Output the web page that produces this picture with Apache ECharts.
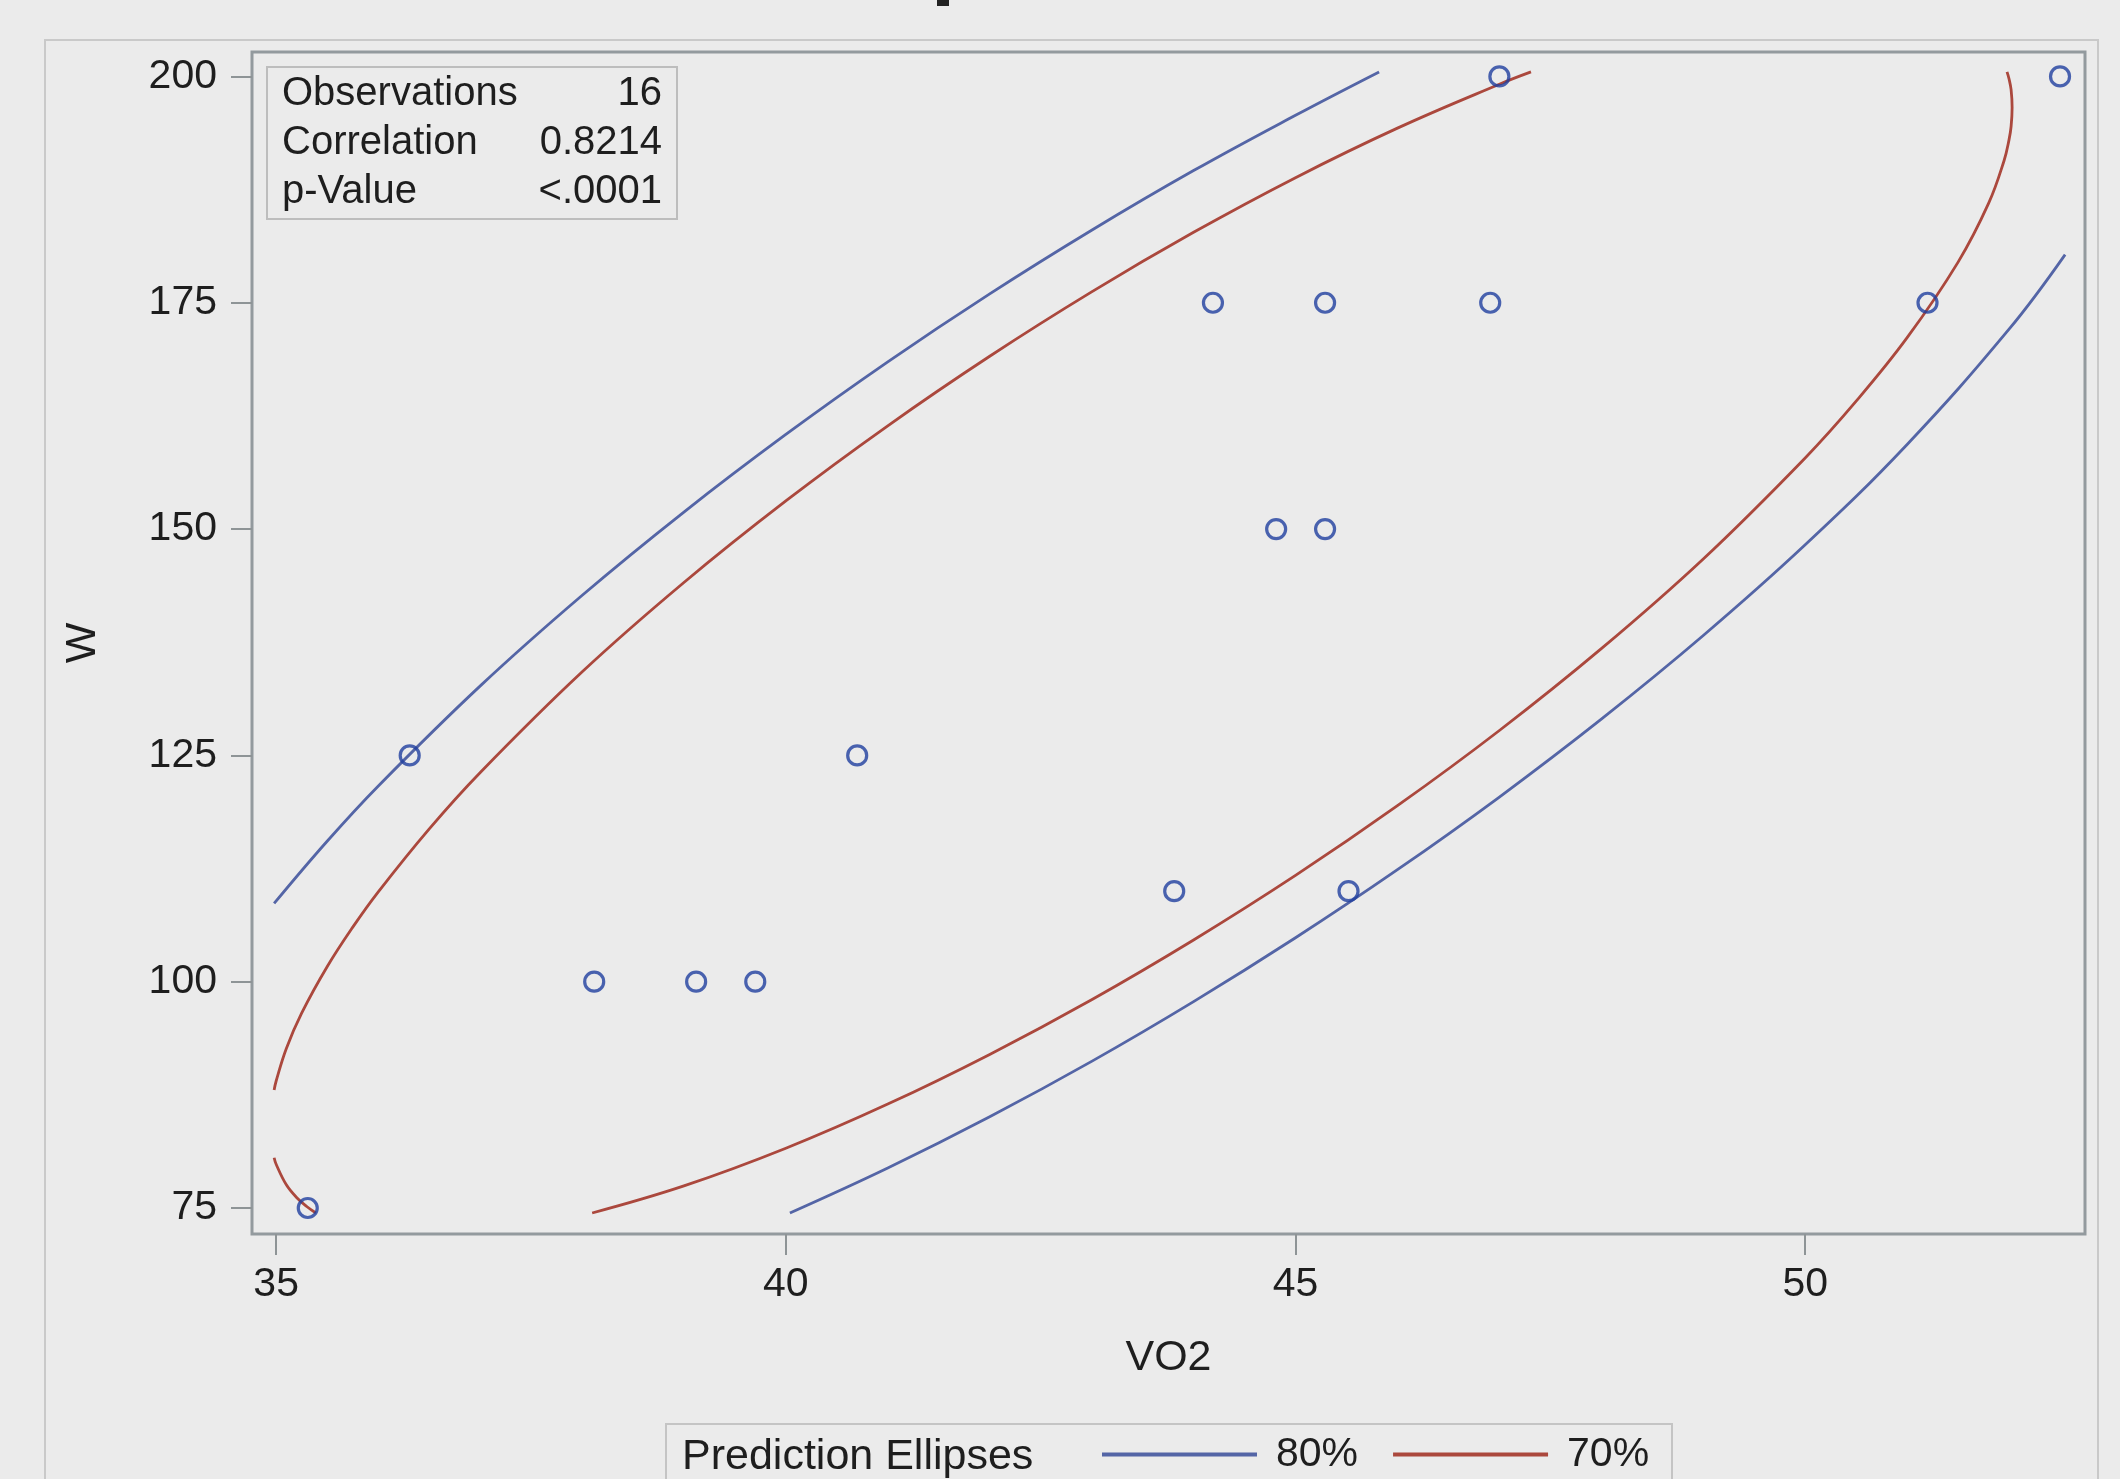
<!DOCTYPE html>
<html><head><meta charset="utf-8">
<script src="https://cdn.jsdelivr.net/npm/echarts@6/dist/echarts.min.js"></script>
<style>html,body{margin:0;padding:0;background:#ebebeb;} #c{width:2120px;height:1479px;}</style>
</head><body><div id="c"></div>
<script>
// ---- data ----
const vo2 = [35.31, 36.31, 38.12, 39.12, 39.70, 40.70, 43.81, 44.19, 44.81, 45.29, 45.29, 45.52, 46.91, 47.00, 51.20, 52.50];
const w   = [75, 125, 100, 100, 100, 125, 110, 175, 150, 150, 175, 110, 175, 200, 175, 200];
const xTicks = [35, 40, 45, 50];
const yTicks = [75, 100, 125, 150, 175, 200];
const statsLabels = ['Observations', 'Correlation', 'p-Value'];
const statsValues = ['16', '0.8214', '<.0001'];
const legendTitle = 'Prediction Ellipses';
const levels = ['80%', '70%'];
// 80% prediction ellipse (visible pieces)
const e80Upper = [[34.98,108.65],[35.5,115.52],[36,121.60],[37,132.65],[38,142.66],[39,151.88],[40,160.45],[41,168.47],[42,175.98],[43,183.01],[44,189.60],[45,195.71],[45.82,200.5]];
const e80Lower = [[40.04,74.45],[41,79.42],[42,85.08],[43,91.20],[44,97.80],[45,104.85],[46,112.37],[47,120.40],[48,129.00],[49,138.24],[50,148.26],[51,159.35],[52,172.08],[52.55,180.32]];
// 70% prediction ellipse (visible pieces)
const e70Upper = [[34.98,88.04],[35.0,89.03],[35.1,92.62],[35.25,96.52],[35.5,101.65],[35.75,106.00],[36,109.90],[36.5,116.86],[37,123.09],[38,134.21],[39,144.10],[40,153.11],[41,161.41],[42,169.09],[43,176.20],[44,182.78],[45,188.82],[46,194.29],[47,199.14],[47.31,200.5]];
const e70LowerLeft = [[34.98,80.55],[35.0,79.83],[35.1,77.56],[35.2,76.17],[35.3,75.17],[35.39,74.45]];
const e70LowerRight = [[38.1,74.45],[39,77.44],[40,81.60],[41,86.48],[42,91.97],[43,98.01],[44,104.61],[45,111.74],[46,119.44],[47,127.75],[48,136.79],[49,146.70],[50,157.86],[50.5,164.13],[51,171.14],[51.5,179.49],[51.8,186.00],[51.95,190.66],[52.0,193.02],[52.02,194.47],[52.03,196.58],[52.02,198.54],[52.0,199.72],[51.98,200.5]];

const FONT = '"Liberation Sans", Arial, sans-serif';
const TXT = '#1e1e1e';
const BLUE = '#5465a6';
const RED = '#ab483d';
const MARK = '#1f3f9f';

const chart = echarts.init(document.getElementById('c'), null, {renderer: 'canvas', width: 2120, height: 1479});

function curve(name, data, color) {
  return {
    type: 'line', name: name, data: data, smooth: 0.4, symbol: 'none', showSymbol: false,
    lineStyle: {color: color, width: 2.8}, itemStyle: {color: color},
    z: 2, silent: true, emphasis: {disabled: true}
  };
}

const statGraphics = [];
statsLabels.forEach(function (lab, i) {
  statGraphics.push({type: 'text', x: 282, y: 94 + 49 * i, z: 20,
    style: {text: lab, fontSize: 40, fontFamily: FONT, fill: TXT, align: 'left', verticalAlign: 'middle'}});
  statGraphics.push({type: 'text', x: 662, y: 94 + 49 * i, z: 20,
    style: {text: statsValues[i], fontSize: 40, fontFamily: FONT, fill: TXT, align: 'right', verticalAlign: 'middle'}});
});

const option = {
  animation: false,
  backgroundColor: '#ebebeb',
  textStyle: {fontFamily: FONT},
  grid: {left: 252, right: 35, top: 52, bottom: 245, show: true, borderColor: '#939a9e', borderWidth: 3,
         backgroundColor: 'transparent', containLabel: false, outerBoundsMode: 'none'},
  xAxis: {
    type: 'value', min: 34.763, max: 52.745,
    name: 'VO2', nameLocation: 'middle', nameGap: 103,
    nameTextStyle: {fontSize: 43, color: TXT, fontFamily: FONT},
    axisLine: {show: false},
    axisTick: {show: true, length: 21, lineStyle: {color: '#8e9496', width: 2}, customValues: xTicks},
    axisLabel: {customValues: xTicks, fontSize: 41, color: TXT, margin: 30, fontFamily: FONT},
    splitLine: {show: false}
  },
  yAxis: {
    type: 'value', min: 72.13, max: 202.7,
    name: 'W', nameLocation: 'middle', nameGap: 147, nameRotate: 90,
    nameTextStyle: {fontSize: 43, color: TXT, fontFamily: FONT},
    axisLine: {show: false},
    axisTick: {show: true, length: 21, lineStyle: {color: '#8e9496', width: 2}, customValues: yTicks},
    axisLabel: {customValues: yTicks, fontSize: 41, color: TXT, margin: 35, fontFamily: FONT, padding: [4, 0, 0, 0]},
    splitLine: {show: false}
  },
  legend: {
    data: levels, left: 1102, top: 1434, padding: 0, itemWidth: 155, itemHeight: 4, itemGap: 35,
    icon: 'rect', selectedMode: false,
    textStyle: {fontSize: 41, color: TXT, fontFamily: FONT, padding: [0, 0, 0, 14]}
  },
  graphic: [
    {type: 'rect', silent: true, z: -10, shape: {x: 45, y: 40, width: 2053, height: 1480}, style: {fill: 'none', stroke: '#c9c9c9', lineWidth: 2}},
    {type: 'rect', silent: true, z: 0, shape: {x: 937, y: 0, width: 12, height: 6}, style: {fill: '#222'}},
    {type: 'rect', silent: true, z: 15, shape: {x: 267, y: 67, width: 410, height: 152}, style: {fill: '#ebebeb', stroke: '#bdbdbd', lineWidth: 2}},
    {type: 'rect', silent: true, z: 15, shape: {x: 666, y: 1424, width: 1006, height: 90}, style: {fill: 'none', stroke: '#c4c4c4', lineWidth: 2}},
    {type: 'text', x: 682, y: 1457, z: 20, style: {text: legendTitle, fontSize: 43, fontFamily: FONT, fill: TXT, align: 'left', verticalAlign: 'middle'}}
  ].concat(statGraphics),
  series: [
    curve(levels[0], e80Upper, BLUE),
    curve(levels[0], e80Lower, BLUE),
    curve(levels[1], e70Upper, RED),
    curve(levels[1], e70LowerLeft, RED),
    curve(levels[1], e70LowerRight, RED),
    {
      type: 'scatter', name: 'W', data: vo2.map(function (x, i) { return [x, w[i]]; }),
      symbol: 'circle', symbolSize: 19, z: 5, silent: true,
      itemStyle: {color: 'rgba(0,0,0,0)', borderColor: MARK, borderWidth: 3.2},
      emphasis: {disabled: true}
    }
  ]
};
chart.setOption(option);
</script>
</body></html>
